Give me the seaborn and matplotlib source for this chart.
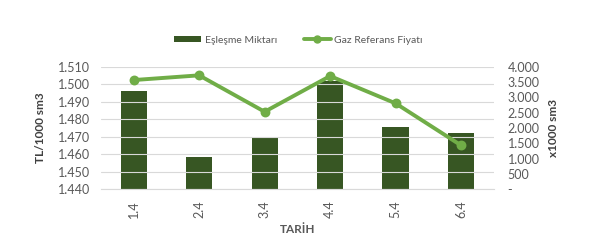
import matplotlib
matplotlib.use("Agg")
import matplotlib.pyplot as plt
import seaborn as sns
import pandas as pd
from matplotlib.ticker import FuncFormatter, MultipleLocator, FixedLocator
from matplotlib.patches import Patch
from matplotlib.lines import Line2D

categories = ["1.4", "2.4", "3.4", "4.4", "5.4", "6.4"]
miktar = [3207, 1054, 1674, 3543, 2033, 1837]          # x1000 sm3 (right axis, bars)
fiyat = [1502.4, 1505.1, 1484.3, 1504.7, 1489.1, 1465.1]  # TL/1000 sm3 (left axis, line)

df = pd.DataFrame({"TARIH": categories, "miktar": miktar, "fiyat": fiyat})

sns.set_theme(style="white")
plt.rcParams["font.family"] = ["Lato", "DejaVu Sans"]

BAR = "#375623"
LINE = "#70AD47"
TXT = "#595959"
GRID = "#D9D9D9"

fig = plt.figure(figsize=(5.9, 2.41), dpi=100)
ax = fig.add_axes([0.171, 0.2145, 0.666, 0.5085])
ax2 = ax.twinx()

sns.barplot(data=df, x="TARIH", y="miktar", ax=ax2, color=BAR, width=0.4,
            saturation=1, edgecolor="none")
sns.pointplot(data=df, x="TARIH", y="fiyat", ax=ax, color=LINE,
              markers="o", linestyles="-", markersize=5, linewidth=2.8)

ax.set_zorder(ax2.get_zorder() + 1)
ax.patch.set_visible(False)

ax.set_ylim(1440, 1510)
ax.yaxis.set_major_locator(MultipleLocator(10))
ax.yaxis.set_major_formatter(FuncFormatter(lambda v, p: f"{int(round(v)):,}".replace(",", ".")))
ax2.set_ylim(0, 4000)
ax2.yaxis.set_major_locator(MultipleLocator(500))
ax2.yaxis.set_major_formatter(FuncFormatter(lambda v, p: "-" if abs(v) < 1e-9 else f"{int(round(v)):,}".replace(",", ".")))

ax.set_xlim(-0.5, len(categories) - 0.5)
ax.grid(axis="y", color=GRID, linewidth=0.8)
ax.set_axisbelow(True)
ax2.grid(False)

for a in (ax, ax2):
    for s in a.spines.values():
        s.set_visible(False)
ax2.spines["bottom"].set_visible(True)
ax2.spines["bottom"].set_color(GRID)
ax2.spines["bottom"].set_linewidth(0.8)

ax.tick_params(axis="y", length=0, labelsize=9, labelcolor=TXT, pad=8)
ax2.tick_params(axis="y", length=0, labelsize=9, labelcolor=TXT, pad=10)
ax.set_xticks(range(len(categories)))
ax.set_xticklabels(categories, rotation=90)
ax.tick_params(axis="x", length=0, labelsize=9, labelcolor=TXT, pad=8)
ax.xaxis.set_minor_locator(FixedLocator([i - 0.5 for i in range(len(categories) + 1)]))
ax.tick_params(axis="x", which="minor", length=4, color=GRID, width=0.8)
ax2.tick_params(axis="x", length=0)

ax.set_xlabel("TARİH", fontsize=8.5, fontweight="bold", color=TXT, labelpad=4)
ax.set_ylabel("TL/1000 sm3", fontsize=8.5, fontweight="bold", color="#404040", labelpad=8)
ax2.set_ylabel("x1000 sm3", fontsize=8.5, fontweight="bold", color="#404040", labelpad=6)

handles = [Patch(facecolor=BAR, edgecolor="none"),
           Line2D([0], [0], color=LINE, lw=2.8, marker="o", markersize=5)]
fig.legend(handles, ["Eşleşme Miktarı", "Gaz Referans Fiyatı"], loc="center",
           bbox_to_anchor=(0.506, 0.834), ncol=2, frameon=False, fontsize=7.5,
           labelcolor=TXT, handlelength=2.6, handleheight=0.5, columnspacing=2.6,
           handletextpad=0.3)

fig.savefig("out.png", dpi=100)
